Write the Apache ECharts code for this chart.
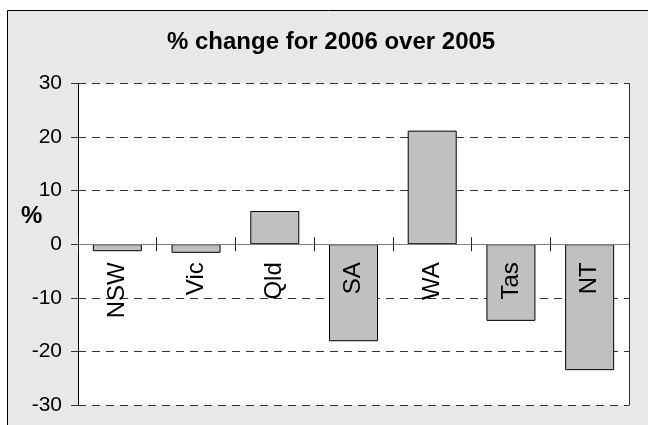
<!DOCTYPE html>
<html>
<head>
<meta charset="utf-8">
<script src="https://cdn.jsdelivr.net/npm/echarts@6/dist/echarts.min.js"></script>
<style>html,body{margin:0;padding:0;background:#fff;}#c{width:648px;height:425px;}</style>
</head>
<body>
<div id="c"></div>
<script>
var categories = ['NSW', 'Vic', 'Qld', 'SA', 'WA', 'Tas', 'NT'];
var changePct = [-1.3, -1.6, 6.2, -18.1, 21.2, -14.3, -23.5];
var yTicks = [-30, -20, -10, 0, 10, 20, 30];
var titleText = '% change for 2006 over 2005';
var yName = '%';

var chart = echarts.init(document.getElementById('c'), null, {renderer: 'canvas'});
var FONT = '"Liberation Sans", Arial, sans-serif';
var GRID_TOP = 83.5, GRID_BOTTOM = 20, H = 425;
var plotH = H - GRID_TOP - GRID_BOTTOM;
var zeroOffset = -(plotH * (0 - (-30)) / 60); // move x axes from bottom/top to the zero line
chart.setOption({
  animation: false,
  backgroundColor: '#fff',
  textStyle: {fontFamily: FONT},
  graphic: [
    {type: 'rect', z: -10, shape: {x: 7.5, y: 10.5, width: 700, height: 500},
     style: {fill: '#e8e8e8', stroke: '#000', lineWidth: 1}},
    {type: 'text', left: 21, top: 204, z: 10,
     style: {text: yName, font: 'bold 24px ' + FONT, fill: '#000'}}
  ],
  title: {
    text: titleText,
    left: 162, top: 25,
    textStyle: {fontSize: 24, fontWeight: 'bold', color: '#000', fontFamily: FONT}
  },
  grid: {left: 78, right: 19, top: GRID_TOP, bottom: GRID_BOTTOM, outerBoundsMode: 'none', containLabel: false,
         show: true, backgroundColor: '#fff', borderWidth: 0},
  xAxis: [
    {
      type: 'category', data: categories, z: 5, position: 'bottom', offset: zeroOffset,
      axisLine: {onZero: false, lineStyle: {color: '#808080', width: 1}},
      axisTick: {show: true, length: 7, lineStyle: {color: '#222'}},
      axisLabel: {rotate: 90, margin: 18, fontSize: 24, color: '#000', fontFamily: FONT, interval: 0},
      splitLine: {show: false}
    },
    {
      type: 'category', data: categories, position: 'top', z: 5, offset: zeroOffset,
      axisLine: {onZero: false, lineStyle: {color: '#808080', width: 1}},
      axisTick: {show: true, length: 7, lineStyle: {color: '#222'}},
      axisLabel: {show: false},
      splitLine: {show: false}
    }
  ],
  yAxis: [
    {
      type: 'value', min: -30, max: 30, interval: 10,
      axisLine: {show: true, onZero: false, lineStyle: {color: '#000', width: 1}},
      axisTick: {show: true, length: 7, lineStyle: {color: '#333'}},
      axisLabel: {margin: 16, fontSize: 21, color: '#000', fontFamily: FONT,
        formatter: function (v) { return yTicks.indexOf(v) >= 0 ? String(v) : ''; }},
      splitLine: {show: true, lineStyle: {color: '#333', type: [8, 6], width: 1}}
    },
    {
      type: 'value', min: -30, max: 30, interval: 10, position: 'right',
      axisLine: {show: true, onZero: false, lineStyle: {color: '#333', width: 1}},
      axisTick: {show: false},
      axisLabel: {show: false},
      splitLine: {show: false}
    }
  ],
  series: [{
    type: 'bar',
    data: changePct,
    barWidth: 49,
    itemStyle: {color: '#c0c0c0', borderColor: '#000', borderWidth: 1}
  }]
});
</script>
</body>
</html>
